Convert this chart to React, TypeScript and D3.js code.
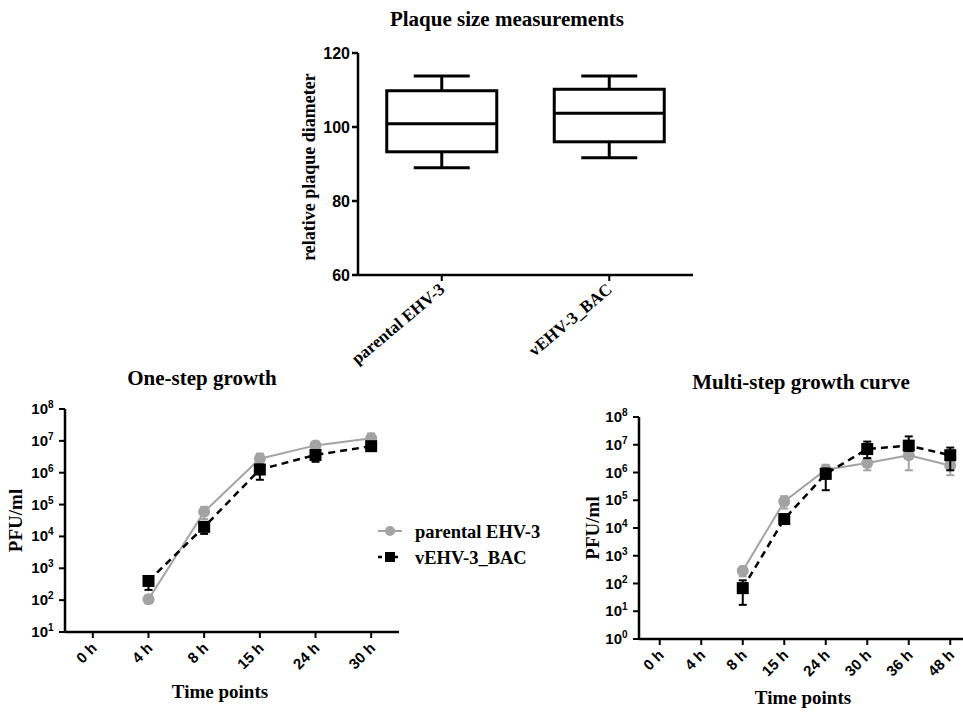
import React from "react";
import * as d3 from "d3";

// ---------- Data ----------
const boxGroups = ["parental EHV-3", "vEHV-3_BAC"];
const boxMin = [89, 91.7];
const boxQ1 = [93.3, 96.0];
const boxMedian = [100.9, 103.7];
const boxQ3 = [109.8, 110.2];
const boxMax = [113.8, 113.8];
const boxTicks = [60, 80, 100, 120];

const oneTimes = ["0 h", "4 h", "8 h", "15 h", "24 h", "30 h"];
const oneParental = [null, 107, 5.9e4, 2.75e6, 7.2e6, 1.2e7];
const oneParentalLo = [null, 80, 3.5e4, 1.8e6, 5.5e6, 8e6];
const oneParentalHi = [null, 140, 8.5e4, 4e6, 9.5e6, 1.7e7];
const oneBac = [null, 400, 2.0e4, 1.26e6, 3.6e6, 6.8e6];
const oneBacLo = [null, 210, 1.2e4, 6e5, 2.2e6, 5e6];
const oneBacHi = [null, 550, 2.8e4, 1.8e6, 5e6, 8.5e6];
const oneExps = [1, 2, 3, 4, 5, 6, 7, 8];

const multiTimes = ["0 h", "4 h", "8 h", "15 h", "24 h", "30 h", "36 h", "48 h"];
const multiParental = [null, null, 290, 9e4, 1.25e6, 2.2e6, 4.2e6, 1.8e6];
const multiParentalLo = [null, null, 180, 5e4, 8e5, 1.2e6, 1.2e6, 8e5];
const multiParentalHi = [null, null, 360, 1.4e5, 1.9e6, 3e6, 6.5e6, 2.6e6];
const multiBac = [null, null, 68, 2.1e4, 8.9e5, 7e6, 9.3e6, 4.2e6];
const multiBacLo = [null, null, 17, 1.4e4, 2.3e5, 3.3e6, 6e6, 1.2e6];
const multiBacHi = [null, null, 130, 2.7e4, 1.4e6, 1.3e7, 2e7, 7.9e6];
const multiExps = [0, 1, 2, 3, 4, 5, 6, 7, 8];

const seriesNames = ["parental EHV-3", "vEHV-3_BAC"];

const SERIF = "'Liberation Serif', 'Times New Roman', serif";
const SANS = "'Liberation Sans', Arial, sans-serif";
const GRAY = "#a3a3a3";

function BoxPlot() {
  const x = d3.scalePoint<string>().domain(boxGroups).range([358, 693]).padding(0.5);
  const y = d3.scaleLinear().domain([60, 120]).range([275, 53]);
  const bw = 55;
  const cw = 28;
  return (
    <g>
      <text x={507} y={26} textAnchor="middle" fontFamily={SERIF} fontWeight="bold" fontSize={21}>
        Plaque size measurements
      </text>
      <text transform={`translate(315,167) rotate(-90)`} textAnchor="middle" fontFamily={SERIF} fontWeight="bold" fontSize={18}>
        relative plaque diameter
      </text>
      <line x1={358} x2={358} y1={y(120)} y2={y(60)} stroke="#000" strokeWidth={2.5} />
      <line x1={358} x2={693} y1={y(60)} y2={y(60)} stroke="#000" strokeWidth={2.5} />
      {boxTicks.map((t) => (
        <g key={t}>
          <line x1={352} x2={358} y1={y(t)} y2={y(t)} stroke="#000" strokeWidth={2.5} />
          <text x={350} y={y(t) + 6} textAnchor="end" fontFamily={SANS} fontWeight="bold" fontSize={16}>
            {t}
          </text>
        </g>
      ))}
      {boxGroups.map((g, i) => {
        const cx = x(g)!;
        return (
          <g key={g}>
            <line x1={cx} x2={cx} y1={y(60)} y2={y(60) + 6} stroke="#000" strokeWidth={2} />
            <text transform={`translate(${cx + 4},${y(60) + 16}) rotate(-40)`} textAnchor="end" fontFamily={SERIF} fontWeight="bold" fontSize={17}>
              {g}
            </text>
            <line x1={cx} x2={cx} y1={y(boxMax[i])} y2={y(boxQ3[i])} stroke="#000" strokeWidth={3} />
            <line x1={cx} x2={cx} y1={y(boxQ1[i])} y2={y(boxMin[i])} stroke="#000" strokeWidth={3} />
            <line x1={cx - cw} x2={cx + cw} y1={y(boxMax[i])} y2={y(boxMax[i])} stroke="#000" strokeWidth={3} />
            <line x1={cx - cw} x2={cx + cw} y1={y(boxMin[i])} y2={y(boxMin[i])} stroke="#000" strokeWidth={3} />
            <rect x={cx - bw} y={y(boxQ3[i])} width={bw * 2} height={y(boxQ1[i]) - y(boxQ3[i])} fill="none" stroke="#000" strokeWidth={3} />
            <line x1={cx - bw} x2={cx + bw} y1={y(boxMedian[i])} y2={y(boxMedian[i])} stroke="#000" strokeWidth={3} />
          </g>
        );
      })}
    </g>
  );
}

type LineProps = {
  title: string;
  titleX: number;
  titleY: number;
  times: string[];
  xRange: [number, number];
  axisEnd: number;
  yDomain: [number, number];
  yRange: [number, number];
  exps: number[];
  par: (number | null)[];
  parLo: (number | null)[];
  parHi: (number | null)[];
  bac: (number | null)[];
  bacLo: (number | null)[];
  bacHi: (number | null)[];
  yLabelX: number;
  xLabelX: number;
  xLabelY: number;
};

function Series({ xs, y, vals, lo, hi, color, dashed, square }: any) {
  const pts = vals
    .map((v: number | null, i: number) => (v == null ? null : { i, v }))
    .filter((d: any) => d) as { i: number; v: number }[];
  const line = d3
    .line<{ i: number; v: number }>()
    .x((d) => xs[d.i])
    .y((d) => y(d.v));
  return (
    <g>
      <path d={line(pts) || ""} fill="none" stroke={color} strokeWidth={dashed ? 2.5 : 2} strokeDasharray={dashed ? "7,5" : undefined} />
      {pts.map((d) => {
        const cx = xs[d.i];
        const yl = y(lo[d.i]);
        const yh = y(hi[d.i]);
        return (
          <g key={d.i}>
            <line x1={cx} x2={cx} y1={yh} y2={yl} stroke={color} strokeWidth={2} />
            <line x1={cx - 4} x2={cx + 4} y1={yh} y2={yh} stroke={color} strokeWidth={2} />
            <line x1={cx - 4} x2={cx + 4} y1={yl} y2={yl} stroke={color} strokeWidth={2} />
            {square ? (
              <rect x={cx - 6} y={y(d.v) - 6} width={12} height={12} fill={color} />
            ) : (
              <circle cx={cx} cy={y(d.v)} r={6} fill={color} />
            )}
          </g>
        );
      })}
    </g>
  );
}

function LineChart(p: LineProps) {
  const x = d3.scalePoint<string>().domain(p.times).range(p.xRange).padding(0.5);
  const y = d3.scaleLog().domain(p.yDomain).range(p.yRange);
  const x0 = p.xRange[0];
  const y0 = p.yRange[0];
  const xs = p.times.map((t) => x(t)!);
  return (
    <g>
      <text x={p.titleX} y={p.titleY} textAnchor="middle" fontFamily={SERIF} fontWeight="bold" fontSize={21}>
        {p.title}
      </text>
      <text transform={`translate(${p.yLabelX},${(p.yRange[0] + p.yRange[1]) / 2}) rotate(-90)`} textAnchor="middle" fontFamily={SERIF} fontWeight="bold" fontSize={19}>
        PFU/ml
      </text>
      <text x={p.xLabelX} y={p.xLabelY} textAnchor="middle" fontFamily={SERIF} fontWeight="bold" fontSize={19}>
        Time points
      </text>
      {p.exps.map((e) => {
        const yy = y(Math.pow(10, e));
        return (
          <g key={e}>
            <line x1={x0 - 6} x2={x0} y1={yy} y2={yy} stroke="#000" strokeWidth={2} />
            <text x={x0 - 17} y={yy + 5} textAnchor="end" fontFamily={SANS} fontWeight="bold" fontSize={15}>
              10
            </text>
            <text x={x0 - 17} y={yy - 1} textAnchor="start" fontFamily={SANS} fontWeight="bold" fontSize={10}>
              {e}
            </text>
          </g>
        );
      })}
      {p.times.map((t) => {
        const cx = x(t)!;
        return (
          <g key={t}>
            <line x1={cx} x2={cx} y1={y0} y2={y0 + 6} stroke="#000" strokeWidth={2} />
            <text transform={`translate(${cx + 5},${y0 + 17}) rotate(-45)`} textAnchor="end" fontFamily={SANS} fontWeight="bold" fontSize={15}>
              {t}
            </text>
          </g>
        );
      })}
      <Series xs={xs} y={y} vals={p.par} lo={p.parLo} hi={p.parHi} color={GRAY} dashed={false} square={false} />
      <Series xs={xs} y={y} vals={p.bac} lo={p.bacLo} hi={p.bacHi} color="#000" dashed={true} square={true} />
      <line x1={x0} x2={x0} y1={p.yRange[1]} y2={y0} stroke="#000" strokeWidth={2.5} />
      <line x1={x0} x2={p.axisEnd} y1={y0} y2={y0} stroke="#000" strokeWidth={2.5} />
    </g>
  );
}

function Legend() {
  return (
    <g fontFamily={SERIF} fontWeight="bold" fontSize={18.5}>
      <line x1={378} x2={402} y1={531} y2={531} stroke={GRAY} strokeWidth={2} />
      <circle cx={390} cy={531} r={5} fill={GRAY} />
      <text x={415} y={538}>{seriesNames[0]}</text>
      <line x1={378} x2={402} y1={557} y2={557} stroke="#000" strokeWidth={2.5} strokeDasharray="4,4" />
      <rect x={385} y={552} width={10} height={10} fill="#000" />
      <text x={415} y={564}>{seriesNames[1]}</text>
    </g>
  );
}

export default function App() {
  return (
    <svg width={963} height={712} style={{ position: "absolute", left: 0, top: 0, background: "#fff" }}>
      <rect width={963} height={712} fill="#fff" />
      <BoxPlot />
      <LineChart
        title="One-step growth"
        titleX={202}
        titleY={385}
        times={oneTimes}
        xRange={[65, 399]}
        axisEnd={399}
        yDomain={[10, 1e8]}
        yRange={[632, 409]}
        exps={oneExps}
        par={oneParental}
        parLo={oneParentalLo}
        parHi={oneParentalHi}
        bac={oneBac}
        bacLo={oneBacLo}
        bacHi={oneBacHi}
        yLabelX={22}
        xLabelX={220}
        xLabelY={698}
      />
      <Legend />
      <LineChart
        title="Multi-step growth curve"
        titleX={801}
        titleY={389}
        times={multiTimes}
        xRange={[639, 971]}
        axisEnd={963}
        yDomain={[1, 1e8]}
        yRange={[639, 417]}
        exps={multiExps}
        par={multiParental}
        parLo={multiParentalLo}
        parHi={multiParentalHi}
        bac={multiBac}
        bacLo={multiBacLo}
        bacHi={multiBacHi}
        yLabelX={599}
        xLabelX={803}
        xLabelY={704}
      />
    </svg>
  );
}
